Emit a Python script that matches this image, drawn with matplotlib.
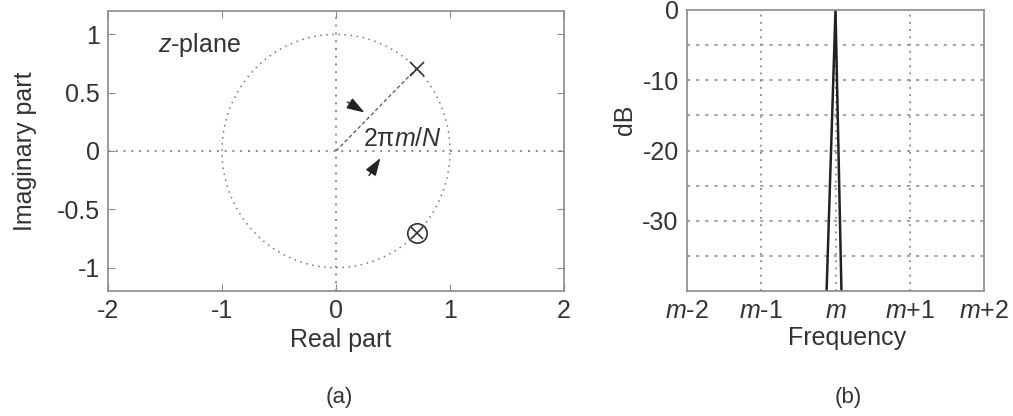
import numpy as np
import matplotlib.pyplot as plt

plt.rcParams['font.family'] = ['Liberation Sans', 'DejaVu Sans']
plt.rcParams['mathtext.fontset'] = 'custom'
plt.rcParams['mathtext.it'] = 'Liberation Sans:italic'
plt.rcParams['mathtext.rm'] = 'Liberation Sans'
plt.rcParams['axes.unicode_minus'] = False

# z-plane data
pole_angle = np.pi / 4
zero_angle = -np.pi / 4
x_ticks_a = [-2, -1, 0, 1, 2]
y_ticks_a = [-1, -0.5, 0, 0.5, 1]
y_tick_labels_a = ['-1', '-0.5', '0', '0.5', '1']

# magnitude response data
freq = [-0.12, 0.0, 0.08]
mag_db = [-40, 0, -40]
x_ticks_b = [-2, -1, 0, 1, 2]
x_tick_labels_b = [r'$m$-2', r'$m$-1', r'$m$', r'$m$+1', r'$m$+2']
y_ticks_b = [0, -10, -20, -30]
y_grid_b = [-5, -10, -15, -20, -25, -30, -35]

txt = '#333333'
spine = '#8a8a8a'
fs = 18

fig = plt.figure(figsize=(10.13, 4.16), dpi=100)
ax1 = fig.add_axes([108 / 1013, 1 - 291 / 416, 456 / 1013, 280 / 416])
ax2 = fig.add_axes([687 / 1013, 1 - 291 / 416, 297 / 1013, 281 / 416])

for ax in (ax1, ax2):
    for s in ax.spines.values():
        s.set_color(spine)
        s.set_linewidth(1.2)
    ax.tick_params(direction='in', top=True, right=True, colors=spine,
                   labelcolor=txt, labelsize=fs, length=5, pad=6)

# (a) z-plane
t = np.linspace(0, 2 * np.pi, 200)
ax1.plot(np.cos(t), np.sin(t), ls=(0, (1, 3)), color='#777777', lw=1.1)
ax1.axhline(0, ls=(0, (1, 3)), color='#888888', lw=1.4)
ax1.axvline(0, ls=(0, (1, 3)), color='#888888', lw=1.4)
px, py = np.cos(pole_angle), np.sin(pole_angle)
ax1.plot([0, px], [0, py], ls=(0, (3, 2)), color='#555555', lw=0.9)
ax1.plot(px, py, marker='x', ms=10, mew=1.2, color='#333333', ls='none')
zx, zy = np.cos(zero_angle), np.sin(zero_angle)
ax1.plot(zx, zy, marker='o', ms=14, mfc='none', mew=1.2, color='#333333', ls='none')
ax1.plot(zx, zy, marker='x', ms=8, mew=1.2, color='#333333', ls='none')
arrow = dict(arrowstyle='-|>,head_length=0.9,head_width=0.3',
             color='#222222', lw=1.0, mutation_scale=12, shrinkA=0, shrinkB=0)
ax1.annotate('', xy=(0.25, 0.33), xytext=(0.10, 0.42), arrowprops=arrow)
ax1.annotate('', xy=(0.39, -0.06), xytext=(0.29, -0.21), arrowprops=arrow)
ax1.text(-1.56, 0.905, r'$z$-plane', fontsize=fs, color=txt, va='center')
ax1.text(0.237, 0.10, '2π$m$/$N$', fontsize=fs, color=txt, va='center')
ax1.set_xlim(-2, 2)
ax1.set_ylim(-1.2, 1.2)
ax1.set_xticks(x_ticks_a)
ax1.set_yticks(y_ticks_a)
ax1.set_yticklabels(y_tick_labels_a)
ax1.set_xlabel('Real part', fontsize=fs, color=txt)
ax1.xaxis.label.set_va('center')
ax1.xaxis.set_label_coords((341 - 108) / 456, (291 - 340) / 280)
ax1.set_ylabel('Imaginary part', fontsize=fs, color=txt)
ax1.yaxis.label.set_va('center')
ax1.yaxis.set_label_coords((25 - 108) / 456, 0.5)

# (b) magnitude
for yv in y_grid_b:
    ax2.axhline(yv, ls=(0, (2, 4)), color='#888888', lw=1.1)
for xv in [-1, 0, 1]:
    ax2.axvline(xv, ls=(0, (1, 3)), color='#888888', lw=1.3)
ax2.plot(freq, mag_db, color='#222222', lw=1.8)
ax2.set_xlim(-2, 2)
ax2.set_ylim(-40, 0)
ax2.set_xticks(x_ticks_b)
ax2.set_xticklabels(x_tick_labels_b)
ax2.set_yticks(y_ticks_b)
ax2.tick_params(length=0)
ax2.set_xlabel('Frequency', fontsize=fs, color=txt)
ax2.xaxis.label.set_va('center')
ax2.xaxis.set_label_coords((847 - 687) / 297, (291 - 338) / 281)
ax2.set_ylabel('dB', fontsize=fs, color=txt)
ax2.yaxis.label.set_va('center')
ax2.yaxis.set_label_coords((625 - 687) / 297, (291 - 120) / 281)

fig.text(339 / 1013, 1 - 397 / 416, '(a)', fontsize=16, color=txt, ha='center', va='center')
fig.text(848 / 1013, 1 - 397 / 416, '(b)', fontsize=16, color=txt, ha='center', va='center')

fig.savefig('out.png', dpi=100, facecolor='white')
